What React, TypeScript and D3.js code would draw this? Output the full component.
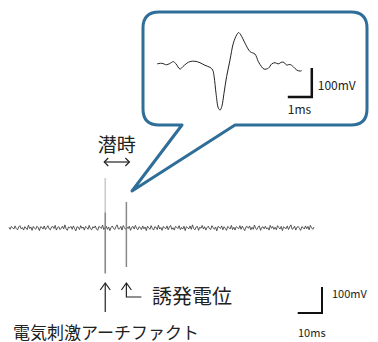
import React from "react";
import * as d3 from "d3";

// main recording: baseline noise, one sample per 0.5 ms (mV)
const sampleMs = 0.5;
const mainNoise = [
  3, -5, 6, 1, -4, 8, -2, -7, 4, 9, -3, 2, -8, 5, 0, -6, 11, -2, 4, -9,
  6, -1, -5, 7, 2, -10, 5, 3, -4, 8, -6, 1, 9, -3, -7, 4, 6, -2, 10, -8,
  2, 5, -6, -1, 7, -4, 12, -3, -9, 4, 1, 6, -5, 8, -2, -11, 5, 3, -6, 9,
  -1, 4, -8, 6, 2, -5, 10, -3, -7, 5, 0, 8, -4, -9, 6, 3, -2, 11, -6, 1,
  7, -5, 4, -10, 2, 8, -1, -6, 5, 12, -4, -3, 6, -8, 9, 1, -5, 4, -2, 7,
  -9, 3, 6, -4, 10, -1, -7, 5, 2, -6, 8, -3, 4, -10, 7, 1, -5, 9, -2, -8,
  5, 3, -6, 11, -4, 2, -9, 6, 0, -3, 8, -7, 4, 10, -5, 1, -8, 6, 3, -2,
  9, -6, 2, -4, 7, -10, 5, 1, -3, 8, -5, 12, -2, -7, 4, 6, -9, 3, -1, 10,
  -4, 5, -8, 2, 7, -3, -6, 9, 1, -5, 4, -11, 6, 3, -2, 8, -7, 5, -1, -9,
  6, 2, -4, 10, -6, 3, -8, 5, 1, -3, 9, -5, 7, -2, -10, 4, 6, -1, 8, -7,
  3, -5, 11, -2, -6, 4, 8, -9, 2, 5, -3, 7, -4, 1, -8, 10, -1, 6, -5, 3,
  -7, 9, 2, -4, 6, -10, 5, 1, -3, 8, -6, 4, 12, -5, -2, 7, -8, 3, 6, -1,
  -9, 5, 2, -4, 8, -3, 6, -7, 10, 1, -5, 4,
];
// spikes: stimulus artifact and evoked potential (ms, mV)
const artifact = { t: 39.6, top: 192, bottom: -175 };
const evoked = { t: 48.3, top: 100, bottom: -150 };

// magnified evoked potential (ms, mV)
const insetT = [
  0, 0.2, 0.4, 0.61, 0.68, 0.79, 0.96, 1.07, 1.24, 1.38, 1.58, 1.79, 2.0, 2.21,
  2.32, 2.38, 2.46, 2.56, 2.63, 2.7, 2.79, 2.9, 3.04, 3.18, 3.32, 3.4, 3.49,
  3.67, 3.88, 4.08, 4.22, 4.36, 4.46, 4.64, 4.78, 4.92, 5.05, 5.2, 5.29, 5.4,
  5.54, 5.68, 5.82, 5.96, 6.03,
];
const insetV = [
  -3, -1, -6, 2, 5, -3, -21, -13, -1, 5, 6, 1, -8, -15, -24, -47, -105, -156,
  -162, -150, -105, -47, 10, 68, 97, 105, 97, 68, 39, 31, 5, -13, -21, -18, -3,
  1, -3, 3, 2, -7, -5, -13, -24, -28, -26,
];

const labels = {
  latency: "潜時",
  evoked: "誘発電位",
  artifact: "電気刺激アーチファクト",
  mainV: "100mV",
  mainT: "10ms",
  insetV: "100mV",
  insetT: "1ms",
};

const font = "'Noto Sans CJK JP', 'Noto Sans', sans-serif";
const blue = "#2f6e98";

export default function App() {
  const W = 378;
  const H = 342;

  const x = d3.scaleLinear().domain([0, (mainNoise.length - 1) * sampleMs]).range([9, 314]);
  const y = d3.scaleLinear().domain([-200, 200]).range([280, 176]);
  const line = d3
    .line<number>()
    .x((d, i) => x(i * sampleMs))
    .y((d) => y(d));

  const xi = d3.scaleLinear().domain([0, 6]).range([157, 301]);
  const yi = d3.scaleLinear().domain([0, 100]).range([63, 34]);
  const insetLine = d3
    .line<number>()
    .x((d) => xi(d))
    .y((d, i) => yi(insetV[i]))
    .curve(d3.curveCatmullRom);

  // callout bubble
  const L = 143, T = 12, R = 367, B = 125, r = 16;
  const tail = { right: 235, apex: [132, 191], left: 182 };
  const bubble = `M${L + r},${T} H${R - r} Q${R},${T} ${R},${T + r} V${B - r} Q${R},${B} ${R - r},${B}
    H${tail.right} L${tail.apex[0]},${tail.apex[1]} L${tail.left},${B} H${L + r}
    Q${L},${B} ${L},${B - r} V${T + r} Q${L},${T} ${L + r},${T} Z`;

  const ax = x(artifact.t);
  const ex = x(evoked.t);

  // scale bars
  const ibX = xi(6.45), ibY = 97;
  const mbX = 322, mbY = 313;
  const ms10 = x(10) - x(0);
  const mv100 = y(0) - y(100);
  const ms1 = xi(1) - xi(0);
  const imv100 = yi(0) - yi(100);

  return (
    <svg width={W} height={H} style={{ position: "absolute", left: 0, top: 0 }}>
      <rect width={W} height={H} fill="#fff" />
      <path d={line(mainNoise) ?? ""} fill="none" stroke="#444" strokeWidth={0.9} />
      <line x1={ax} x2={ax} y1={y(artifact.top)} y2={y(60)} stroke="#ccc" strokeWidth={1.6} />
      <line x1={ax} x2={ax} y1={y(60)} y2={y(artifact.bottom)} stroke="#888" strokeWidth={1.6} />
      <line x1={ex} x2={ex} y1={y(evoked.top)} y2={y(evoked.bottom)} stroke="#888" strokeWidth={1.5} />

      <path d={bubble} fill="#fff" stroke={blue} strokeWidth={3} strokeLinejoin="round" />
      <path d={insetLine(insetT) ?? ""} fill="none" stroke="#222" strokeWidth={1} />
      <path d={`M${ibX},${ibY - imv100} V${ibY} H${ibX - ms1}`} fill="none" stroke="#111" strokeWidth={2.5} />
      <text x={ibX + 6} y={84} fontFamily={font} fontSize={12} dominantBaseline="central" fill="#222">{labels.insetV}</text>
      <text x={ibX - ms1} y={108} fontFamily={font} fontSize={12} dominantBaseline="central" fill="#222">{labels.insetT}</text>

      {/* latency */}
      <text x={(ax + ex) / 2 + 1} y={143} fontFamily={font} fontSize={19} textAnchor="middle" dominantBaseline="central" fill="#222">{labels.latency}</text>
      <g fill="none" stroke="#222" strokeWidth={1.2}>
        <path d={`M${ax - 1},162 H${ex + 3}`} />
        <path d={`M${ax + 3},158 L${ax - 1},162 L${ax + 3},166`} />
        <path d={`M${ex - 1},158 L${ex + 3},162 L${ex - 1},166`} />
        {/* artifact arrow */}
        <path d={`M${ax},312 V284`} />
        <path d={`M${ax - 5},290 L${ax},283 L${ax + 5},290`} />
        {/* evoked arrow */}
        <path d={`M${ex},284 V297 H${ex + 15}`} />
        <path d={`M${ex - 5},290 L${ex},283 L${ex + 5},290`} />
      </g>
      <text x={152} y={295} fontFamily={font} fontSize={20} dominantBaseline="central" fill="#222">{labels.evoked}</text>
      <text x={13} y={331} fontFamily={font} fontSize={17} dominantBaseline="central" fill="#222">{labels.artifact}</text>

      {/* main scale bar */}
      <path d={`M${mbX},${mbY - mv100} V${mbY} H${mbX - ms10}`} fill="none" stroke="#111" strokeWidth={2} />
      <text x={332} y={293} fontFamily={font} fontSize={11} dominantBaseline="central" fill="#222">{labels.mainV}</text>
      <text x={298} y={332} fontFamily={font} fontSize={11} dominantBaseline="central" fill="#222">{labels.mainT}</text>
    </svg>
  );
}
